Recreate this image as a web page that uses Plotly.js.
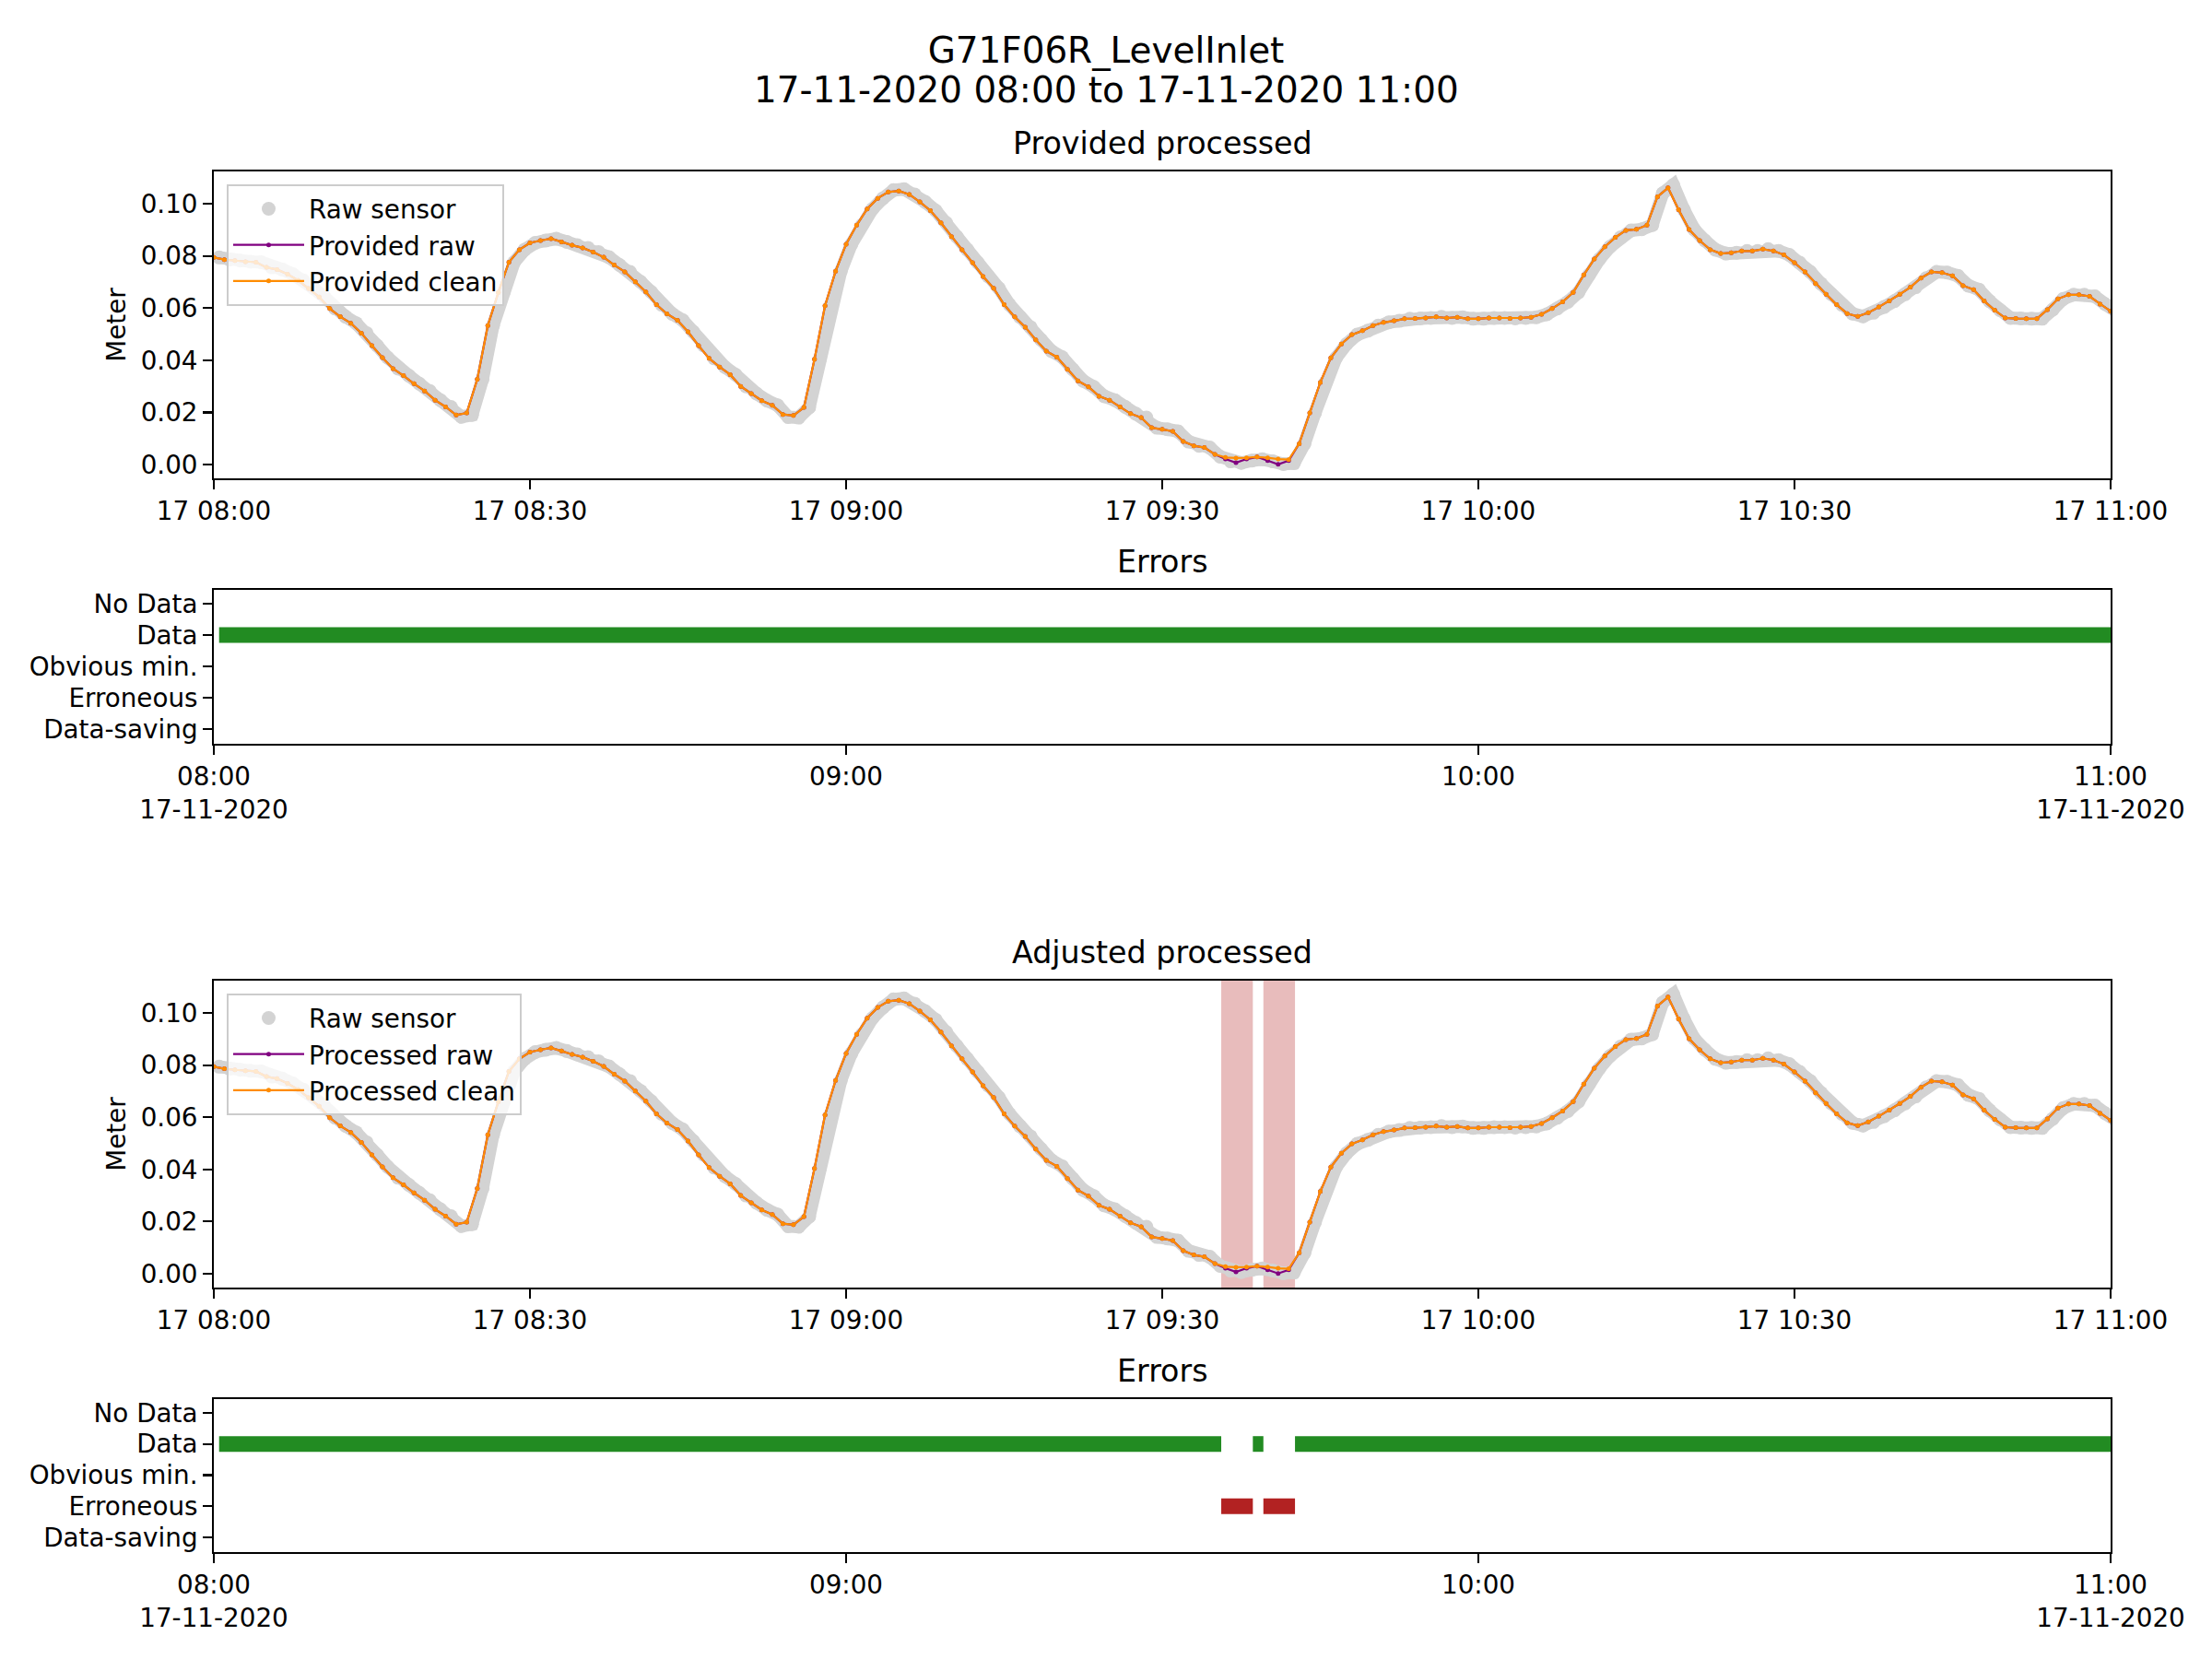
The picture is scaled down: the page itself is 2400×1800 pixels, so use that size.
<!DOCTYPE html>
<html>
<head>
<meta charset="utf-8">
<script src="https://cdn.plot.ly/plotly-3.0.1.min.js"></script>
<style>
  html, body { margin: 0; padding: 0; background: #fff; }
  #plot { width: 2400px; height: 1800px; }
</style>
</head>
<body>
<div id="plot"></div>
<script>
// level readings, one per minute from 08:00 to 11:00 (metres)
const providedClean = [
  0.0794, 0.0786, 0.0782, 0.0778, 0.0776, 0.0756, 0.0748, 0.0730, 0.0706, 0.0675,
  0.0642, 0.0598, 0.0567, 0.0542, 0.0504, 0.0456, 0.0410, 0.0368, 0.0341, 0.0310,
  0.0282, 0.0247, 0.0221, 0.0190, 0.0198, 0.0327, 0.0533, 0.0660, 0.0776, 0.0824,
  0.0850, 0.0859, 0.0866, 0.0854, 0.0841, 0.0831, 0.0815, 0.0795, 0.0765, 0.0739,
  0.0701, 0.0662, 0.0613, 0.0578, 0.0553, 0.0509, 0.0456, 0.0407, 0.0374, 0.0345,
  0.0300, 0.0272, 0.0245, 0.0227, 0.0192, 0.0188, 0.0219, 0.0404, 0.0609, 0.0741,
  0.0845, 0.0918, 0.0980, 0.1021, 0.1045, 0.1049, 0.1036, 0.1007, 0.0974, 0.0927,
  0.0874, 0.0824, 0.0774, 0.0721, 0.0676, 0.0613, 0.0566, 0.0527, 0.0478, 0.0435,
  0.0412, 0.0365, 0.0321, 0.0298, 0.0262, 0.0247, 0.0221, 0.0195, 0.0180, 0.0141,
  0.0135, 0.0127, 0.0088, 0.0072, 0.0065, 0.0039, 0.0027, 0.0025, 0.0026, 0.0029,
  0.0026, 0.0021, 0.0019, 0.0080, 0.0198, 0.0315, 0.0409, 0.0462, 0.0498, 0.0513,
  0.0533, 0.0545, 0.0551, 0.0559, 0.0560, 0.0562, 0.0566, 0.0562, 0.0565, 0.0559,
  0.0559, 0.0562, 0.0562, 0.0560, 0.0562, 0.0565, 0.0576, 0.0598, 0.0624, 0.0660,
  0.0727, 0.0788, 0.0835, 0.0871, 0.0898, 0.0902, 0.0918, 0.1027, 0.1061, 0.0977,
  0.0901, 0.0859, 0.0824, 0.0809, 0.0812, 0.0819, 0.0819, 0.0826, 0.0819, 0.0804,
  0.0774, 0.0739, 0.0694, 0.0653, 0.0613, 0.0579, 0.0568, 0.0582, 0.0604, 0.0627,
  0.0653, 0.0680, 0.0715, 0.0739, 0.0736, 0.0724, 0.0686, 0.0671, 0.0627, 0.0592,
  0.0562, 0.0560, 0.0559, 0.0559, 0.0594, 0.0635, 0.0651, 0.0651, 0.0645, 0.0615,
  0.0588
];

const providedRaw = [
  0.0794, 0.0786, 0.0782, 0.0778, 0.0776, 0.0756, 0.0748, 0.0730, 0.0706, 0.0675,
  0.0642, 0.0598, 0.0567, 0.0542, 0.0504, 0.0456, 0.0410, 0.0368, 0.0341, 0.0310,
  0.0282, 0.0247, 0.0221, 0.0190, 0.0198, 0.0327, 0.0533, 0.0660, 0.0776, 0.0824,
  0.0850, 0.0859, 0.0866, 0.0854, 0.0841, 0.0831, 0.0815, 0.0795, 0.0765, 0.0739,
  0.0701, 0.0662, 0.0613, 0.0578, 0.0553, 0.0509, 0.0456, 0.0407, 0.0374, 0.0345,
  0.0300, 0.0272, 0.0245, 0.0227, 0.0192, 0.0188, 0.0219, 0.0404, 0.0609, 0.0741,
  0.0845, 0.0918, 0.0980, 0.1021, 0.1045, 0.1049, 0.1036, 0.1007, 0.0974, 0.0927,
  0.0874, 0.0824, 0.0774, 0.0721, 0.0676, 0.0613, 0.0566, 0.0527, 0.0478, 0.0435,
  0.0412, 0.0365, 0.0321, 0.0298, 0.0262, 0.0247, 0.0221, 0.0195, 0.0180, 0.0141,
  0.0135, 0.0127, 0.0088, 0.0072, 0.0065, 0.0039, 0.0021, 0.0007, 0.0021, 0.0029,
  0.0015, 0.0001, 0.0015, 0.0080, 0.0198, 0.0315, 0.0409, 0.0462, 0.0498, 0.0513,
  0.0533, 0.0545, 0.0551, 0.0559, 0.0560, 0.0562, 0.0566, 0.0562, 0.0565, 0.0559,
  0.0559, 0.0562, 0.0562, 0.0560, 0.0562, 0.0565, 0.0576, 0.0598, 0.0624, 0.0660,
  0.0727, 0.0788, 0.0835, 0.0871, 0.0898, 0.0902, 0.0918, 0.1027, 0.1061, 0.0977,
  0.0901, 0.0859, 0.0824, 0.0809, 0.0812, 0.0819, 0.0819, 0.0826, 0.0819, 0.0804,
  0.0774, 0.0739, 0.0694, 0.0653, 0.0613, 0.0579, 0.0568, 0.0582, 0.0604, 0.0627,
  0.0653, 0.0680, 0.0715, 0.0739, 0.0736, 0.0724, 0.0686, 0.0671, 0.0627, 0.0592,
  0.0562, 0.0560, 0.0559, 0.0559, 0.0594, 0.0635, 0.0651, 0.0651, 0.0645, 0.0615,
  0.0588
];

// raw sensor, sampled half a minute after each processed value
const rawSensor = [
  0.0794, 0.0786, 0.0782, 0.0778, 0.0776, 0.0756, 0.0748, 0.0730, 0.0706, 0.0675,
  0.0642, 0.0598, 0.0567, 0.0542, 0.0504, 0.0456, 0.0410, 0.0368, 0.0341, 0.0310,
  0.0282, 0.0247, 0.0221, 0.0183, 0.0190, 0.0327, 0.0533, 0.0660, 0.0776, 0.0824,
  0.0850, 0.0859, 0.0866, 0.0854, 0.0841, 0.0831, 0.0815, 0.0795, 0.0765, 0.0739,
  0.0701, 0.0662, 0.0613, 0.0578, 0.0553, 0.0509, 0.0456, 0.0407, 0.0374, 0.0345,
  0.0300, 0.0272, 0.0245, 0.0227, 0.0182, 0.0180, 0.0219, 0.0404, 0.0609, 0.0741,
  0.0845, 0.0918, 0.0980, 0.1021, 0.1052, 0.1056, 0.1036, 0.1007, 0.0974, 0.0927,
  0.0874, 0.0824, 0.0774, 0.0721, 0.0676, 0.0613, 0.0566, 0.0527, 0.0478, 0.0435,
  0.0412, 0.0365, 0.0321, 0.0298, 0.0262, 0.0247, 0.0221, 0.0195, 0.0180, 0.0141,
  0.0135, 0.0127, 0.0088, 0.0072, 0.0065, 0.0030, 0.0012, 0.0006, 0.0015, 0.0020,
  0.0012, 0.0002, 0.0005, 0.0080, 0.0198, 0.0315, 0.0409, 0.0462, 0.0498, 0.0513,
  0.0533, 0.0545, 0.0551, 0.0559, 0.0560, 0.0562, 0.0566, 0.0562, 0.0565, 0.0559,
  0.0559, 0.0562, 0.0562, 0.0560, 0.0562, 0.0565, 0.0576, 0.0598, 0.0624, 0.0660,
  0.0727, 0.0788, 0.0835, 0.0871, 0.0898, 0.0902, 0.0918, 0.1040, 0.1072, 0.0977,
  0.0901, 0.0859, 0.0824, 0.0809, 0.0812, 0.0819, 0.0819, 0.0826, 0.0819, 0.0804,
  0.0774, 0.0739, 0.0694, 0.0653, 0.0613, 0.0579, 0.0568, 0.0582, 0.0604, 0.0627,
  0.0653, 0.0680, 0.0715, 0.0739, 0.0736, 0.0724, 0.0686, 0.0671, 0.0627, 0.0592,
  0.0562, 0.0560, 0.0559, 0.0559, 0.0594, 0.0635, 0.0651, 0.0651, 0.0645, 0.0615,
  0.0588
];

// error flag categories, bottom to top
const errorCategories = ['Data-saving', 'Erroneous', 'Obvious min.', 'Data', 'No Data'];

// flagged periods [start, end] on 17-11-2020
const providedDataSpans = [['08:00:30', '11:00:30']];
const adjustedDataSpans = [['08:00:30', '09:35:36'], ['09:38:36', '09:39:36'], ['09:42:36', '11:00:30']];
const adjustedErroneousSpans = [['09:35:36', '09:38:36'], ['09:39:36', '09:42:36']];

const DAY = '2020-11-17 ';
const pad = n => String(n).padStart(2, '0');
const stamp = (i, sec) => DAY + pad(8 + Math.floor(i / 60)) + ':' + pad(i % 60) + ':' + pad(sec);
const minutes = providedClean.map((_, i) => stamp(i, 0));
const rawTimes = rawSensor.map((_, i) => stamp(i, 30));

const FONT = 'DejaVu Sans, Liberation Sans, sans-serif';
const TICK = 27.8;
const ORANGE = '#ff8c00', PURPLE = '#800080', GREY = '#d3d3d3';
const GREEN = '#228b22', RED = '#b22222';

function levelTraces(xa, ya, legend, rawName, cleanName) {
  return [
    // dense raw samples overlap into a band
    {x: rawTimes, y: rawSensor, xaxis: xa, yaxis: ya, showlegend: false,
     type: 'scatter', mode: 'lines', line: {color: GREY, width: 14}},
    {x: rawTimes, y: rawSensor, xaxis: xa, yaxis: ya, legend: legend, name: 'Raw sensor',
     type: 'scatter', mode: 'markers', marker: {color: GREY, size: 15}},
    {x: minutes, y: providedRaw, xaxis: xa, yaxis: ya, legend: legend, name: rawName,
     type: 'scatter', mode: 'lines+markers', line: {color: PURPLE, width: 2.2}, marker: {color: PURPLE, size: 5}},
    {x: minutes, y: providedClean, xaxis: xa, yaxis: ya, legend: legend, name: cleanName,
     type: 'scatter', mode: 'lines+markers', line: {color: ORANGE, width: 2.2}, marker: {color: ORANGE, size: 5}}
  ];
}

function spanTrace(spans, category, color, xa, ya) {
  const x = [], y = [];
  spans.forEach(([a, b]) => { x.push(DAY + a, DAY + b, null); y.push(category, category, null); });
  return {x, y, xaxis: xa, yaxis: ya, type: 'scatter', mode: 'lines', showlegend: false,
          line: {color: color, width: 17}};
}

const data = [
  ...levelTraces('x', 'y', 'legend', 'Provided raw', 'Provided clean'),
  spanTrace(providedDataSpans, 'Data', GREEN, 'x2', 'y2'),
  ...levelTraces('x3', 'y3', 'legend2', 'Processed raw', 'Processed clean'),
  spanTrace(adjustedDataSpans, 'Data', GREEN, 'x4', 'y4'),
  spanTrace(adjustedErroneousSpans, 'Erroneous', RED, 'x4', 'y4')
];

const xRange = [DAY + '08:00', DAY + '11:00'];
const frame = {
  showline: true, mirror: true, linecolor: 'black', linewidth: 2.2,
  ticks: 'outside', ticklen: 9.7, tickwidth: 2.2, tickcolor: 'black',
  showgrid: false, zeroline: false, fixedrange: true,
  tickfont: {family: FONT, size: TICK, color: 'black'}
};
const levelX = Object.assign({}, frame, {
  type: 'date', range: xRange, dtick: 30 * 60 * 1000, tick0: DAY + '08:00', tickformat: '%d %H:%M'
});
const errorX = Object.assign({}, frame, {
  type: 'date', range: xRange, tickmode: 'array',
  tickvals: [DAY + '08:00', DAY + '09:00', DAY + '10:00', DAY + '11:00'],
  ticktext: ['08:00<br>17-11-2020', '09:00', '10:00', '11:00<br>17-11-2020']
});
const levelY = Object.assign({}, frame, {
  range: [-0.0053, 0.1124], dtick: 0.02, tick0: 0, tickformat: '.2f',
  title: {text: 'Meter', font: {family: FONT, size: TICK, color: 'black'}, standoff: 8}
});
const errorY = Object.assign({}, frame, {
  type: 'category', categoryorder: 'array', categoryarray: errorCategories, range: [-0.47, 4.44]
});

const legendStyle = {
  x: 0.0068, xanchor: 'left', yanchor: 'top',
  bgcolor: 'rgba(255,255,255,0.8)', bordercolor: '#cccccc', borderwidth: 2,
  font: {family: FONT, size: TICK, color: 'black'}, itemwidth: 77
};

function subTitle(text, yTop) {
  return {text: text, xref: 'paper', yref: 'paper', x: 0.5, y: yTop, xanchor: 'center', yanchor: 'bottom',
          yshift: 9, showarrow: false, font: {family: FONT, size: 33.3, color: 'black'}};
}

// plot area spans 232..2290 px across and 186..1684 px down
const PLOT_H = 1498;
const dom1 = [0.7777, 1], dom2 = [0.5855, 0.6969], dom3 = [0.1916, 0.4139], dom4 = [0, 0.1108];

const layout = {
  width: 2400, height: 1800,
  paper_bgcolor: 'white', plot_bgcolor: 'white',
  font: {family: FONT, color: 'black'},
  margin: {l: 232, r: 110, t: 186, b: 116},
  title: {text: 'G71F06R_LevelInlet', x: 0.5, xref: 'container', y: 1 - 54 / 1800, yref: 'container',
          xanchor: 'center', yanchor: 'middle', font: {family: FONT, size: 38.9, color: 'black'}},
  hovermode: false,
  xaxis: Object.assign({}, levelX, {anchor: 'y'}),
  yaxis: Object.assign({}, levelY, {domain: dom1, anchor: 'x'}),
  xaxis2: Object.assign({}, errorX, {anchor: 'y2'}),
  yaxis2: Object.assign({}, errorY, {domain: dom2, anchor: 'x2'}),
  xaxis3: Object.assign({}, levelX, {anchor: 'y3'}),
  yaxis3: Object.assign({}, levelY, {domain: dom3, anchor: 'x3'}),
  xaxis4: Object.assign({}, errorX, {anchor: 'y4'}),
  yaxis4: Object.assign({}, errorY, {domain: dom4, anchor: 'x4'}),
  legend: Object.assign({}, legendStyle, {y: 1 - 14 / PLOT_H}),
  legend2: Object.assign({}, legendStyle, {y: dom3[1] - 14 / PLOT_H}),
  shapes: adjustedErroneousSpans.map(([a, b]) => ({
    type: 'rect', xref: 'x3', yref: 'y3 domain', x0: DAY + a, x1: DAY + b, y0: 0, y1: 1,
    fillcolor: RED, opacity: 0.3, line: {width: 0}, layer: 'below'
  })),
  annotations: [
    {text: '17-11-2020 08:00 to 17-11-2020 11:00', xref: 'paper', yref: 'paper',
     x: (1200 - 232) / 2058, y: (1684 - 98) / PLOT_H, xanchor: 'center', yanchor: 'middle',
     showarrow: false, font: {family: FONT, size: 38.9, color: 'black'}},
    subTitle('Provided processed', dom1[1]),
    subTitle('Errors', dom2[1]),
    subTitle('Adjusted processed', dom3[1]),
    subTitle('Errors', dom4[1])
  ]
};

Plotly.newPlot('plot', data, layout, {displayModeBar: false, staticPlot: true});
</script>
</body>
</html>
